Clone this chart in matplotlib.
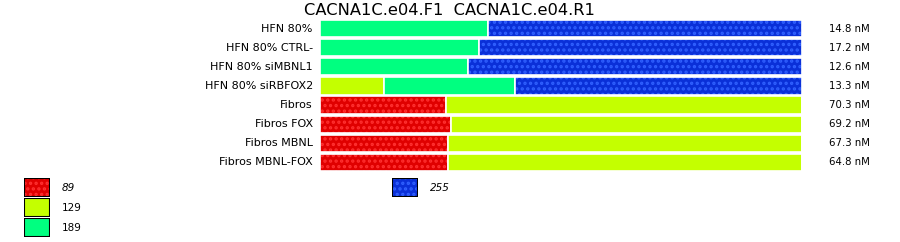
import numpy as np
import matplotlib.pyplot as plt
import matplotlib.patches as mpatches

# data
samples = ['HFN 80%', 'HFN 80% CTRL-', 'HFN 80% siMBNL1', 'HFN 80% siRBFOX2',
           'Fibros', 'Fibros FOX', 'Fibros MBNL', 'Fibros MBNL-FOX']
conc = ['14.8 nM', '17.2 nM', '12.6 nM', '13.3 nM',
        '70.3 nM', '69.2 nM', '67.3 nM', '64.8 nM']
sizes = ['89', '129', '189', '255']
pct_89 = [0, 0, 0, 0, 26.1, 27.1, 26.5, 26.5]
pct_129 = [0, 0, 0, 13.2, 73.9, 72.9, 73.5, 73.5]
pct_189 = [34.8, 33.0, 30.7, 27.2, 0, 0, 0, 0]
pct_255 = [65.2, 67.0, 69.3, 59.6, 0, 0, 0, 0]

colors = ['#e00000', '#c4ff00', '#00ff80', '#0a30d8']
dots = ['#ff3030', None, None, '#3060ff']

plt.rcParams['hatch.linewidth'] = 1.6

fig = plt.figure(figsize=(9, 2.42), dpi=100)
ax = fig.add_axes([320 / 900, 1 - 172 / 242, 482 / 900, 153 / 242])

y = np.arange(len(samples))
left = np.zeros(len(samples))
for vals, c, d in zip([pct_89, pct_129, pct_189, pct_255], colors, dots):
    vals = np.array(vals)
    if d:
        ax.barh(y, vals, left=left, height=0.9, color=c, edgecolor=d,
                linewidth=0, hatch='...')
    else:
        ax.barh(y, vals, left=left, height=0.9, color=c, linewidth=0)
    # white separators between segments
    ax.barh(y, vals, left=left, height=0.9, facecolor='none',
            edgecolor='white', linewidth=1.2)
    left += vals

ax.set_xlim(0, 100)
ax.set_ylim(len(samples) - 0.5, -0.5)
ax.axis('off')

for i, (s, c) in enumerate(zip(samples, conc)):
    ax.text(-1.5, i, s, ha='right', va='center', fontsize=8)
    ax.text(105.5, i, c, ha='left', va='center', fontsize=7.3)

fig.text(449 / 900, 1 - 10.5 / 242, 'CACNA1C.e04.F1  CACNA1C.e04.R1',
         ha='center', va='center', fontsize=11.7)

# legend
leg_pos = [(24, 178), (24, 198), (24, 218), (392, 178)]
for (lx, ly), lab, c, d in zip(leg_pos, sizes, colors, dots):
    lax = fig.add_axes([lx / 900, 1 - (ly + 19) / 242, 26 / 900, 19 / 242])
    lax.set_xlim(0, 1)
    lax.set_ylim(0, 1)
    lax.axis('off')
    if d:
        lax.add_patch(mpatches.Rectangle((0, 0), 1, 1, facecolor=c, edgecolor=d,
                                         linewidth=0, hatch='...'))
    else:
        lax.add_patch(mpatches.Rectangle((0, 0), 1, 1, facecolor=c, linewidth=0))
    lax.add_patch(mpatches.Rectangle((0, 0), 1, 1, facecolor='none',
                                     edgecolor='black', linewidth=1.5))
    fig.text((lx + 38) / 900, 1 - (ly + 10) / 242, lab, ha='left', va='center',
             fontsize=7.5, style='italic' if d else 'normal')

fig.savefig('out.png', dpi=100)
